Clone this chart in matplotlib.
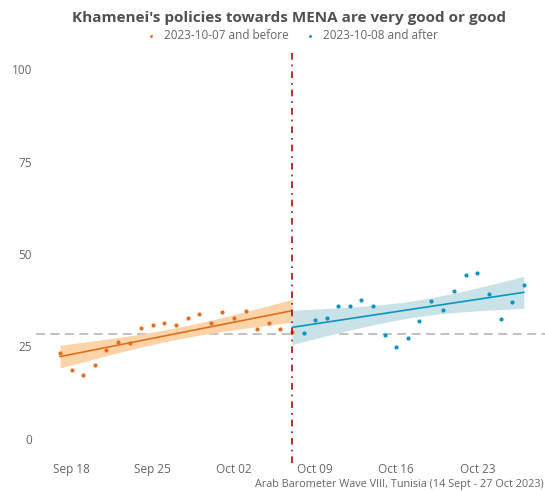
import numpy as np
import pandas as pd
import matplotlib as mpl
mpl.use("Agg")
import matplotlib.pyplot as plt
import matplotlib.dates as mdates

plt.rcParams['font.family'] = ['Open Sans', 'DejaVu Sans']

# Daily share (%) saying the policies are very good or good
before_dates = pd.date_range("2023-09-17", "2023-10-07", freq="D")
before_vals = [23.3, 18.7, 17.4, 20.0, 24.0, 26.1, 25.9, 30.1, 30.8, 31.4,
               30.9, 32.7, 33.7, 31.4, 34.4, 32.8, 34.5, 29.7, 31.4, 29.8, 28.9]

after_dates = pd.date_range("2023-10-08", "2023-10-27", freq="D")
after_vals = [28.7, 32.1, 32.7, 35.9, 36.0, 37.5, 35.9, 28.1, 24.9, 27.4,
              31.9, 37.4, 34.9, 39.9, 44.4, 44.9, 39.3, 32.4, 37.0, 41.5]

overall_ref = 28.4
split_date = pd.Timestamp("2023-10-07")

orange = "#E0701F"
orange_band = "#FDD3A8"
blue = "#0A95C0"
blue_band = "#C8E2E8"
grey_text = "#666666"


def fit_line(dates, vals, start, end):
    # linear fit with 95% confidence band, like seaborn's regplot
    x = mdates.date2num(dates)
    y = np.array(vals)
    n = len(x)
    b, a = np.polyfit(x, y, 1)
    resid = y - (a + b * x)
    s = np.sqrt(np.sum(resid ** 2) / (n - 2))
    sxx = np.sum((x - x.mean()) ** 2)
    xs = np.linspace(mdates.date2num(start), mdates.date2num(end), 100)
    ys = a + b * xs
    half = 2.09 * s * np.sqrt(1.0 / n + (xs - x.mean()) ** 2 / sxx)
    return xs, ys, ys - half, ys + half


def main():
    fig = plt.figure(figsize=(5.45, 4.91), dpi=100)
    ax = fig.add_axes([0.066, 0.057, 0.934, 0.837])

    ax.axhline(overall_ref, color="#BBBBBB", lw=1.3, ls=(0, (5, 3)), zorder=1)

    xs, ys, lo, hi = fit_line(before_dates, before_vals, before_dates[0], split_date)
    ax.fill_between(xs, lo, hi, color=orange_band, lw=0, zorder=2)
    ax.plot(xs, ys, color=orange, lw=1.2, zorder=3)

    xs, ys, lo, hi = fit_line(after_dates, after_vals, split_date, after_dates[-1])
    ax.fill_between(xs, lo, hi, color=blue_band, lw=0, zorder=2)
    ax.plot(xs, ys, color=blue, lw=1.2, zorder=3)

    ax.scatter(before_dates, before_vals, s=9, color=orange, lw=0, zorder=4,
               label="2023-10-07 and before")
    ax.scatter(after_dates, after_vals, s=9, color=blue, lw=0, zorder=4,
               label="2023-10-08 and after")

    ax.axvline(split_date, color="#A80E0E", lw=1.2, ls=(0, (4, 3, 1, 3)), zorder=5)

    ax.set_xlim(pd.Timestamp("2023-09-14 22:00"), pd.Timestamp("2023-10-28 20:00"))
    ax.set_ylim(-6.5, 104.6)
    ax.set_yticks([0, 25, 50, 75, 100])
    ax.xaxis.set_major_locator(mdates.WeekdayLocator(byweekday=mdates.MO))
    ax.xaxis.set_major_formatter(mdates.DateFormatter("%b %d"))
    ax.tick_params(length=0, labelsize=8.5, labelcolor=grey_text)
    ax.tick_params(axis="x", pad=0)
    ax.tick_params(axis="y", pad=3)
    for sp in ax.spines.values():
        sp.set_visible(False)

    fig.suptitle("Khamenei's policies towards MENA are very good or good",
                 x=0.53, y=0.978, fontsize=11, fontweight="bold", color="#505050")
    fig.legend(loc="upper center", bbox_to_anchor=(0.53, 0.962), ncol=2,
               frameon=False, fontsize=8.5, labelcolor=grey_text,
               handletextpad=0.1, columnspacing=0.8, markerscale=0.7)
    fig.text(0.997, 0.002, "Arab Barometer Wave VIII, Tunisia (14 Sept - 27 Oct 2023)",
             ha="right", va="bottom", fontsize=7.8, color=grey_text)

    fig.savefig("out.png", dpi=100)


if __name__ == "__main__":
    main()
